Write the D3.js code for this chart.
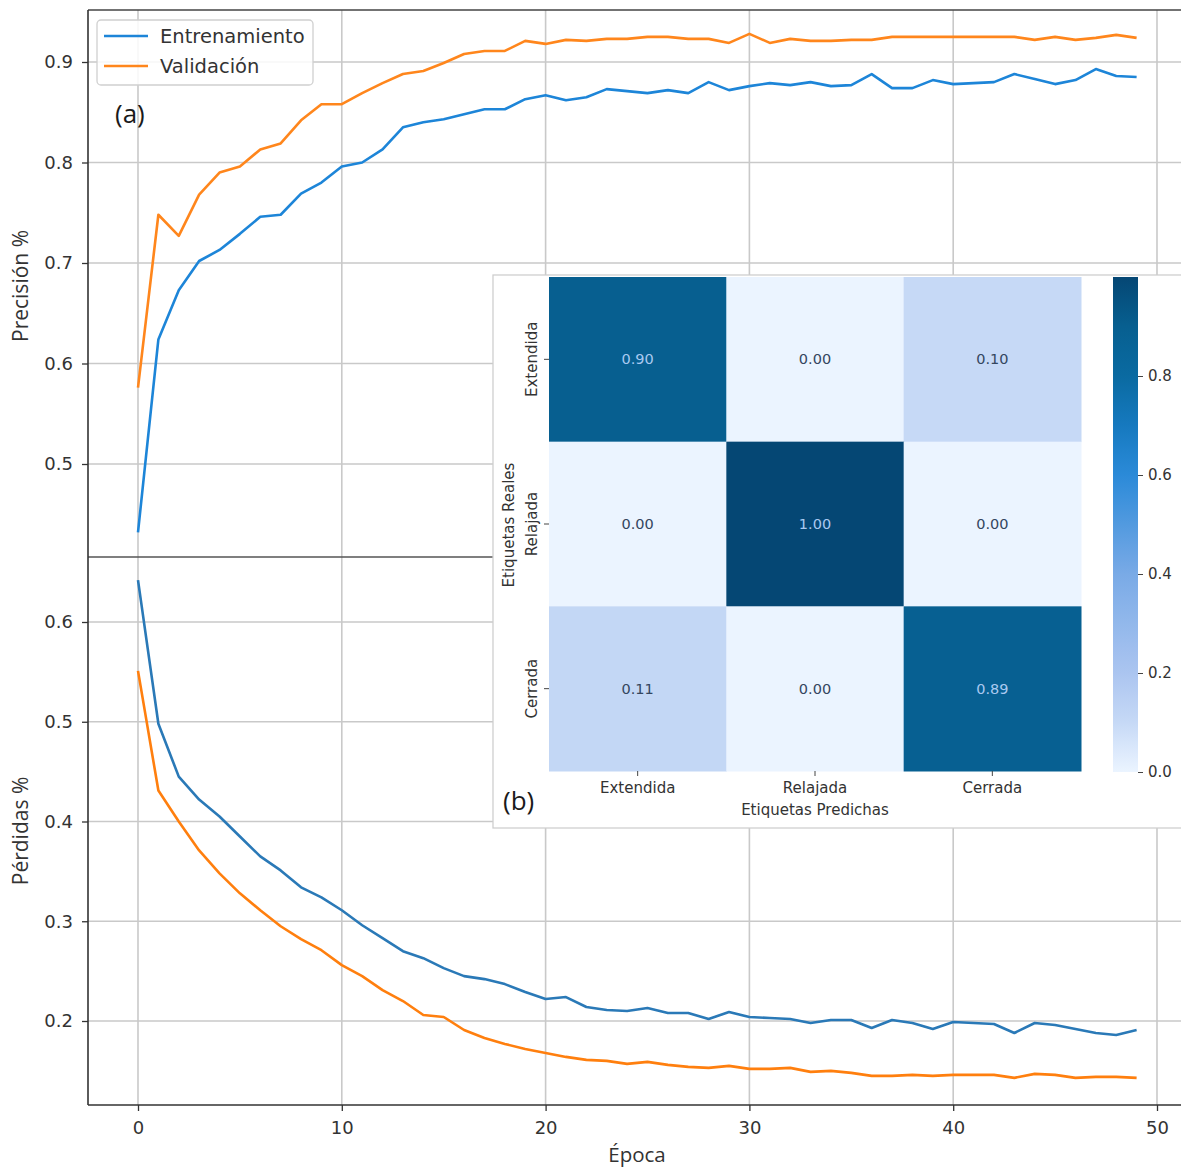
<!DOCTYPE html>
<html>
<head>
<meta charset="utf-8">
<script src="https://cdn.jsdelivr.net/npm/d3@7"></script>
<style>
  html, body { margin: 0; padding: 0; background: #fff; }
  svg { display: block; }
</style>
</head>
<body>
<svg id="chart" width="1181" height="1169"></svg>
<script>
// ---------------- DATA ----------------
const epochs = [0,1,2,3,4,5,6,7,8,9,10,11,12,13,14,15,16,17,18,19,20,21,22,23,24,25,26,27,28,29,30,31,32,33,34,35,36,37,38,39,40,41,42,43,44,45,46,47,48,49];
const trainAcc = [0.432,0.624,0.673,0.702,0.713,0.729,0.746,0.748,0.769,0.780,0.796,0.800,0.813,0.835,0.840,0.843,0.848,0.853,0.853,0.863,0.867,0.862,0.865,0.873,0.871,0.869,0.872,0.869,0.880,0.872,0.876,0.879,0.877,0.880,0.876,0.877,0.888,0.874,0.874,0.882,0.878,0.879,0.880,0.888,0.883,0.878,0.882,0.893,0.886,0.885];
const valAcc = [0.576,0.748,0.727,0.768,0.790,0.796,0.813,0.819,0.842,0.858,0.858,0.869,0.879,0.888,0.891,0.899,0.908,0.911,0.911,0.921,0.918,0.922,0.921,0.923,0.923,0.925,0.925,0.923,0.923,0.919,0.928,0.919,0.923,0.921,0.921,0.922,0.922,0.925,0.925,0.925,0.925,0.925,0.925,0.925,0.922,0.925,0.922,0.924,0.927,0.924];
const trainLoss = [0.642,0.498,0.445,0.422,0.405,0.385,0.365,0.351,0.334,0.324,0.311,0.296,0.283,0.270,0.263,0.253,0.245,0.242,0.237,0.229,0.222,0.224,0.214,0.211,0.210,0.213,0.208,0.208,0.202,0.209,0.204,0.203,0.202,0.198,0.201,0.201,0.193,0.201,0.198,0.192,0.199,0.198,0.197,0.188,0.198,0.196,0.192,0.188,0.186,0.191];
const valLoss = [0.551,0.431,0.400,0.371,0.348,0.328,0.311,0.295,0.282,0.271,0.256,0.245,0.231,0.220,0.206,0.204,0.191,0.183,0.177,0.172,0.168,0.164,0.161,0.160,0.157,0.159,0.156,0.154,0.153,0.155,0.152,0.152,0.153,0.149,0.150,0.148,0.145,0.145,0.146,0.145,0.146,0.146,0.146,0.143,0.147,0.146,0.143,0.144,0.144,0.143];

const xTicks = [0,10,20,30,40,50];
const accTicks = [0.5,0.6,0.7,0.8,0.9];
const lossTicks = [0.2,0.3,0.4,0.5,0.6];

const seriesNames = ["Entrenamiento","Validación"];
const classes = ["Extendida","Relajada","Cerrada"];
const confusion = [
  [0.90,0.00,0.10],
  [0.00,1.00,0.00],
  [0.11,0.00,0.89]
];
const cbarTicks = [0.0,0.2,0.4,0.6,0.8];

// ---------------- LAYOUT ----------------
const svg = d3.select("#chart");
const W = 1181, H = 1169;
const L = 88, R = 1183;
const topT = 10, topB = 557, botT = 557, botB = 1105;

const x = d3.scaleLinear().domain([0,50]).range([138,1157]);
const yAcc = d3.scaleLinear().domain([0.5,0.9]).range([464,62]);
const yLoss = d3.scaleLinear().domain([0.2,0.6]).range([1021,622]);

const gridColor = "#c9c9c9";
const axisColor = "#333";
const tickFont = "DejaVu Sans, sans-serif";
const titleFont = "'Open Sans', 'Noto Sans', sans-serif";

const blueTop = "#1d85d8", orangeTop = "#ff861c";
const blueBot = "#2a79b7", orangeBot = "#ff7f0e";

const defs = svg.append("defs");
defs.append("clipPath").attr("id","clipTop").append("rect")
  .attr("x",L).attr("y",topT).attr("width",R-L).attr("height",topB-topT);
defs.append("clipPath").attr("id","clipBot").append("rect")
  .attr("x",L).attr("y",botT).attr("width",R-L).attr("height",botB-botT);

function panel(yScale, yTicks, t, b, clipId, s1, s2, c1, c2, title, titleY) {
  const g = svg.append("g");
  g.append("g").selectAll("line").data(xTicks).join("line")
    .attr("x1", d=>x(d)).attr("x2", d=>x(d)).attr("y1", t).attr("y2", b)
    .attr("stroke", gridColor).attr("stroke-width", 1.6);
  g.append("g").selectAll("line").data(yTicks).join("line")
    .attr("x1", L).attr("x2", R).attr("y1", d=>yScale(d)).attr("y2", d=>yScale(d))
    .attr("stroke", gridColor).attr("stroke-width", 1.6);
  const ax = d3.axisLeft(yScale).tickValues(yTicks).tickFormat(d3.format(".1f")).tickSize(6).tickPadding(9);
  const ag = g.append("g").attr("transform", `translate(${L},0)`).call(ax);
  ag.select(".domain").remove();
  ag.selectAll(".tick line").attr("stroke", axisColor).attr("stroke-width", 1.3);
  ag.selectAll(".tick text").attr("font-family", tickFont).attr("font-size", 18).attr("fill", "#333");
  const line = d3.line().x((d,i)=>x(epochs[i])).y(d=>yScale(d));
  const lg = g.append("g").attr("clip-path", `url(#${clipId})`);
  lg.append("path").datum(s1).attr("d", line).attr("fill","none").attr("stroke", c1).attr("stroke-width", 2.6).attr("stroke-linejoin","round");
  lg.append("path").datum(s2).attr("d", line).attr("fill","none").attr("stroke", c2).attr("stroke-width", 2.6).attr("stroke-linejoin","round");
  g.append("text").attr("transform", `translate(28,${titleY}) rotate(-90)`)
    .attr("text-anchor","middle").attr("font-family", titleFont).attr("font-size", 21).attr("fill","#333")
    .text(title);
  return g;
}

panel(yAcc, accTicks, topT, topB, "clipTop", trainAcc, valAcc, blueTop, orangeTop, "Precisión %", 286);
panel(yLoss, lossTicks, botT, botB, "clipBot", trainLoss, valLoss, blueBot, orangeBot, "Pérdidas %", 831);

// frames
svg.append("line").attr("x1",L).attr("x2",R).attr("y1",topT).attr("y2",topT).attr("stroke","#444").attr("stroke-width",1.6);
svg.append("line").attr("x1",L).attr("x2",R).attr("y1",topB).attr("y2",topB).attr("stroke","#555").attr("stroke-width",1.6);
svg.append("line").attr("x1",L).attr("x2",L).attr("y1",topT).attr("y2",botB).attr("stroke","#333").attr("stroke-width",1.6);
svg.append("line").attr("x1",L).attr("x2",R).attr("y1",botB).attr("y2",botB).attr("stroke","#333").attr("stroke-width",1.6);

// x axis bottom
const xa = d3.axisBottom(x).tickValues(xTicks).tickFormat(d3.format("d")).tickSize(6).tickPadding(10);
const xg = svg.append("g").attr("transform", `translate(0,${botB})`).call(xa);
xg.select(".domain").remove();
xg.selectAll(".tick line").attr("stroke", axisColor).attr("stroke-width", 1.3);
xg.selectAll(".tick text").attr("font-family", tickFont).attr("font-size", 18).attr("fill","#333");
svg.append("text").attr("x", 637).attr("y", 1162).attr("text-anchor","middle")
  .attr("font-family", titleFont).attr("font-size", 20.5).attr("fill","#333").text("Época");

// legend
const lgd = svg.append("g");
lgd.append("rect").attr("x",97).attr("y",20).attr("width",216).attr("height",65).attr("rx",4)
  .attr("fill","#fff").attr("fill-opacity",0.85).attr("stroke","#d0d0d0").attr("stroke-width",1.3);
[blueTop, orangeTop].forEach((c,i)=>{
  const yy = 36 + i*30;
  lgd.append("line").attr("x1",104).attr("x2",148).attr("y1",yy).attr("y2",yy).attr("stroke",c).attr("stroke-width",2.6);
  lgd.append("text").attr("x",160).attr("y",yy+7).attr("font-family",tickFont).attr("font-size",19.5).attr("fill","#333").text(seriesNames[i]);
});

// (a)
svg.append("text").attr("x",115).attr("y",123).attr("font-family",titleFont).attr("font-size",26).attr("fill","#1a1a1a").text("(a)");

// ---------------- INSET CONFUSION MATRIX ----------------
const inset = svg.append("g");
inset.append("rect").attr("x",493).attr("y",275).attr("width",W-493+5).attr("height",828-275)
  .attr("fill","#fff").attr("stroke","#cfcfcf").attr("stroke-width",1.3);

const color = d3.scaleLinear()
  .domain([0,0.1,0.2,0.4,0.6,0.7,0.8,0.9,1.0])
  .range(["#ebf4ff","#c6d9f6","#abc5f0","#79aae6","#2b8ad8","#1679bf","#0a6aa1","#075f90","#054774"]);

const cx = d3.scaleBand().domain(classes).range([549,1081]);
const cy = d3.scaleBand().domain(classes).range([277,771]);

const cells = [];
confusion.forEach((row,i)=>row.forEach((v,j)=>cells.push({r:classes[i], c:classes[j], v})));
inset.append("g").selectAll("rect").data(cells).join("rect")
  .attr("x", d=>cx(d.c)).attr("y", d=>cy(d.r))
  .attr("width", cx.bandwidth()+0.5).attr("height", cy.bandwidth()+0.5)
  .attr("fill", d=>color(d.v));
inset.append("g").selectAll("text").data(cells).join("text")
  .attr("x", d=>cx(d.c)+cx.bandwidth()/2).attr("y", d=>cy(d.r)+cy.bandwidth()/2+5)
  .attr("text-anchor","middle").attr("font-family",tickFont).attr("font-size",14.5)
  .attr("fill", d=> d.v > 0.5 ? "#a9c9f0" : "#34465e")
  .text(d=>d3.format(".2f")(d.v));

// y axis of heatmap
const hya = d3.axisLeft(cy).tickSize(5).tickPadding(8).tickSizeOuter(0);
const hyg = inset.append("g").attr("transform","translate(549,0)").call(hya);
hyg.select(".domain").remove();
hyg.selectAll(".tick line").attr("stroke","#444");
hyg.selectAll(".tick text").attr("font-family",tickFont).attr("font-size",15).attr("fill","#333")
  .attr("text-anchor","middle")
  .attr("transform","translate(-12,0) rotate(-90)").attr("x",0).attr("y",0).attr("dy","0");

// x axis of heatmap
const hxa = d3.axisBottom(cx).tickSize(5).tickPadding(6).tickSizeOuter(0);
const hxg = inset.append("g").attr("transform","translate(0,771)").call(hxa);
hxg.select(".domain").remove();
hxg.selectAll(".tick line").attr("stroke","#444");
hxg.selectAll(".tick text").attr("font-family",tickFont).attr("font-size",15).attr("fill","#333");

inset.append("text").attr("x",815).attr("y",815).attr("text-anchor","middle")
  .attr("font-family",tickFont).attr("font-size",15).attr("fill","#333").text("Etiquetas Predichas");
inset.append("text").attr("transform","translate(514,525) rotate(-90)").attr("text-anchor","middle")
  .attr("font-family",tickFont).attr("font-size",15).attr("fill","#333").text("Etiquetas Reales");

// colorbar
const cbY = d3.scaleLinear().domain([0,1]).range([772,277]);
const grad = defs.append("linearGradient").attr("id","cbgrad").attr("x1",0).attr("x2",0).attr("y1",1).attr("y2",0);
d3.range(0,1.0001,0.05).forEach(t=>{
  grad.append("stop").attr("offset",t).attr("stop-color",color(t));
});
inset.append("rect").attr("x",1113).attr("y",cbY(1)).attr("width",25).attr("height",cbY(0)-cbY(1)).attr("fill","url(#cbgrad)");
const cba = d3.axisRight(cbY).tickValues(cbarTicks).tickFormat(d3.format(".1f")).tickSize(5).tickPadding(5);
const cbg = inset.append("g").attr("transform","translate(1138,0)").call(cba);
cbg.select(".domain").remove();
cbg.selectAll(".tick line").attr("stroke","#444");
cbg.selectAll(".tick text").attr("font-family",tickFont).attr("font-size",15).attr("fill","#333");

// (b)
svg.append("text").attr("x",503).attr("y",810).attr("font-family",titleFont).attr("font-size",26).attr("fill","#1a1a1a").text("(b)");
</script>
</body>
</html>
